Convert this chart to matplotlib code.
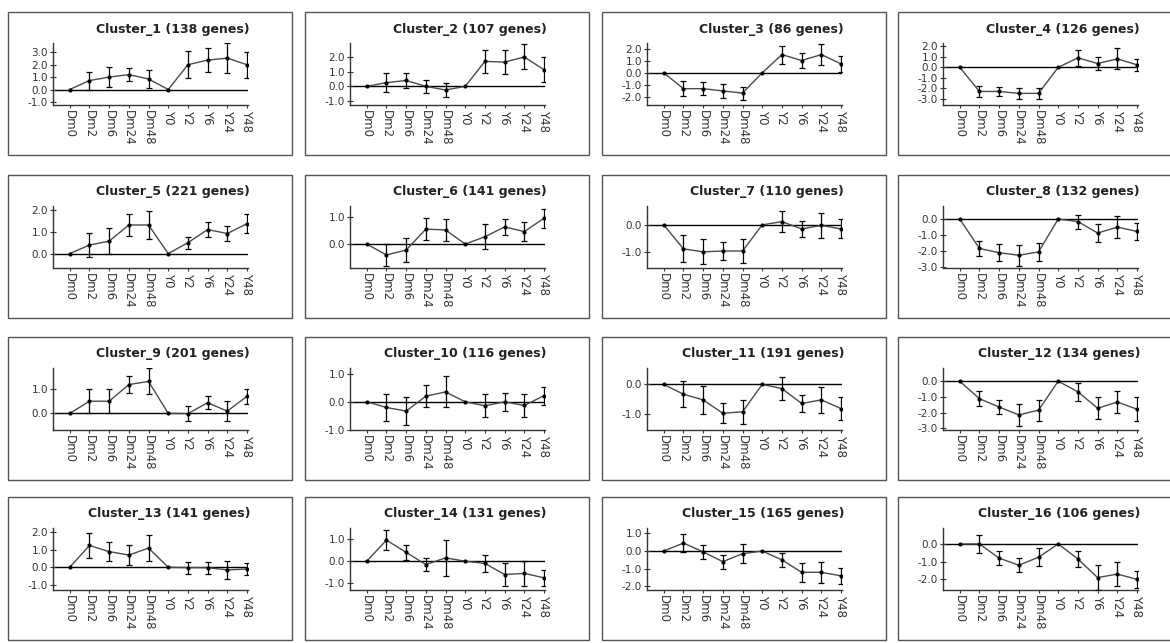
import numpy as np
import matplotlib.pyplot as plt
from matplotlib.patches import Rectangle

# -------- DATA --------
time_labels = ["Dm0", "Dm2", "Dm6", "Dm24", "Dm48", "Y0", "Y2", "Y6", "Y24", "Y48"]
gene_counts = [138, 107, 86, 126, 221, 141, 110, 132,
               201, 116, 191, 134, 141, 131, 165, 106]

means_1 = [0, 0.72, 1.0, 1.2, 0.85, 0, 2.0, 2.37, 2.53, 2.0]
errs_1 = [0, 0.73, 0.8, 0.55, 0.7, 0, 1.1, 0.95, 1.2, 1.05]
means_2 = [0, 0.25, 0.4, 0.0, -0.25, 0, 1.7, 1.65, 2.0, 1.13]
errs_2 = [0, 0.65, 0.5, 0.42, 0.5, 0, 0.8, 0.8, 0.85, 0.85]
means_3 = [0, -1.33, -1.33, -1.52, -1.7, 0, 1.53, 1.03, 1.53, 0.75]
errs_3 = [0, 0.62, 0.55, 0.6, 0.55, 0, 0.75, 0.6, 0.88, 0.68]
means_4 = [0, -2.28, -2.28, -2.46, -2.46, 0, 0.9, 0.36, 0.8, 0.24]
errs_4 = [0, 0.5, 0.45, 0.55, 0.5, 0, 0.77, 0.65, 1.0, 0.55]
means_5 = [0, 0.39, 0.57, 1.31, 1.31, 0, 0.5, 1.1, 0.92, 1.37]
errs_5 = [0, 0.55, 0.58, 0.51, 0.63, 0, 0.28, 0.33, 0.33, 0.44]
means_6 = [0, -0.4, -0.22, 0.55, 0.52, 0, 0.27, 0.63, 0.46, 0.95]
errs_6 = [0, 0.41, 0.43, 0.4, 0.4, 0, 0.45, 0.28, 0.35, 0.35]
means_7 = [0, -0.89, -1.0, -0.97, -0.97, 0, 0.12, -0.15, -0.02, -0.15]
errs_7 = [0, 0.5, 0.47, 0.35, 0.43, 0, 0.4, 0.3, 0.47, 0.35]
means_8 = [0, -1.85, -2.12, -2.28, -2.07, 0, -0.16, -0.88, -0.51, -0.78]
errs_8 = [0, 0.45, 0.53, 0.67, 0.58, 0, 0.44, 0.58, 0.67, 0.53]
means_9 = [0, 0.49, 0.49, 1.16, 1.29, 0, -0.01, 0.43, 0.09, 0.69]
errs_9 = [0, 0.48, 0.48, 0.33, 0.52, 0, 0.31, 0.27, 0.39, 0.3]
means_10 = [0, -0.2, -0.33, 0.2, 0.35, 0, -0.14, 0.0, -0.13, 0.22]
errs_10 = [0, 0.47, 0.5, 0.4, 0.55, 0, 0.4, 0.31, 0.4, 0.32]
means_11 = [0, -0.33, -0.52, -0.97, -0.92, 0, -0.14, -0.64, -0.52, -0.81]
errs_11 = [0, 0.44, 0.48, 0.33, 0.4, 0, 0.4, 0.28, 0.43, 0.4]
means_12 = [0, -1.11, -1.64, -2.14, -1.84, 0, -0.67, -1.72, -1.32, -1.78]
errs_12 = [0, 0.47, 0.46, 0.68, 0.67, 0, 0.56, 0.7, 0.68, 0.75]
means_13 = [0, 1.25, 0.9, 0.7, 1.1, 0, -0.02, -0.02, -0.15, -0.1]
errs_13 = [0, 0.7, 0.55, 0.55, 0.75, 0, 0.35, 0.35, 0.5, 0.35]
means_14 = [0, 0.95, 0.4, -0.15, 0.15, 0, -0.1, -0.6, -0.55, -0.75]
errs_14 = [0, 0.45, 0.35, 0.3, 0.8, 0, 0.4, 0.5, 0.55, 0.35]
means_15 = [0, 0.45, -0.05, -0.6, -0.15, 0, -0.5, -1.2, -1.2, -1.4]
errs_15 = [0, 0.5, 0.4, 0.4, 0.55, 0, 0.4, 0.55, 0.6, 0.45]
means_16 = [0, 0.0, -0.8, -1.2, -0.75, 0, -0.85, -1.9, -1.7, -2.0]
errs_16 = [0, 0.5, 0.4, 0.4, 0.5, 0, 0.45, 0.7, 0.7, 0.5]

all_means = [means_1, means_2, means_3, means_4, means_5, means_6, means_7, means_8,
             means_9, means_10, means_11, means_12, means_13, means_14, means_15, means_16]
all_errs = [errs_1, errs_2, errs_3, errs_4, errs_5, errs_6, errs_7, errs_8,
            errs_9, errs_10, errs_11, errs_12, errs_13, errs_14, errs_15, errs_16]

y_ticks = [
    [-1, 0, 1, 2, 3], [-1, 0, 1, 2], [-2, -1, 0, 1, 2], [-3, -2, -1, 0, 1, 2],
    [0, 1, 2], [0, 1], [-1, 0], [-3, -2, -1, 0],
    [0, 1], [-1, 0, 1], [-1, 0], [-3, -2, -1, 0],
    [-1, 0, 1, 2], [-1, 0, 1], [-2, -1, 0, 1], [-2, -1, 0],
]
y_lims = [
    (-1.25, 3.75), (-1.27, 2.95), (-2.7, 2.5), (-3.56, 2.3),
    (-0.66, 2.18), (-0.88, 1.4), (-1.6, 0.7), (-3.08, 0.82),
    (-0.67, 1.83), (-1.0, 1.2), (-1.53, 0.55), (-3.1, 0.84),
    (-1.3, 2.25), (-1.3, 1.5), (-2.2, 1.3), (-2.6, 0.9),
]

# -------- LAYOUT (pixels) --------
W, H = 1170, 643
col_x = [8, 305, 602, 898]
row_y = [12, 175, 337, 497]
box_w, box_h = 284, 143

fig = plt.figure(figsize=(W / 100, H / 100), dpi=100)
fig.patch.set_facecolor("white")

x = np.arange(len(time_labels))

for i in range(16):
    r, c = divmod(i, 4)
    bx, by = col_x[c], row_y[r]

    # panel frame
    fig.patches.append(Rectangle((bx / W, 1 - (by + box_h) / H), box_w / W, box_h / H,
                                 transform=fig.transFigure, fill=False,
                                 edgecolor="#555555", linewidth=1.0))

    ax = fig.add_axes([(bx + 45) / W, 1 - (by + 93) / H, 195 / W, 62 / H])
    m = np.array(all_means[i])
    e = np.array(all_errs[i])

    ax.axhline(0, color="black", linewidth=1.0, zorder=1)
    ax.plot(x, m, color="#4a4a4a", linewidth=1.0, zorder=2)
    ax.plot(x, m, "o", color="black", markersize=2, zorder=3)
    keep = e > 0
    ax.errorbar(x[keep], m[keep], yerr=e[keep], fmt="none", ecolor="black",
                elinewidth=0.9, capsize=2.5, capthick=0.9, zorder=3)

    ax.set_xlim(-0.85, 9.05)
    ax.set_ylim(*y_lims[i])
    ax.set_yticks(y_ticks[i])
    ax.set_yticklabels([f"{v:.1f}" for v in y_ticks[i]])
    ax.set_xticks(x)
    ax.set_xticklabels(time_labels, rotation=270)

    for s in ["top", "right"]:
        ax.spines[s].set_visible(False)
    for s in ["left", "bottom"]:
        ax.spines[s].set_color("#333333")
        ax.spines[s].set_linewidth(1.0)
    ax.tick_params(axis="y", direction="inout", length=5, width=0.8,
                   labelsize=7.5, colors="#333333", pad=1)
    ax.tick_params(axis="x", direction="out", length=2.5, width=0.8,
                   labelsize=8.5, colors="#333333", pad=1)

    fig.text((bx + 242) / W, 1 - (by + 17) / H, f"Cluster_{i + 1} ({gene_counts[i]} genes)",
             ha="right", va="center", fontsize=9, fontweight="bold", color="#222222")

fig.savefig("out.png", dpi=100, facecolor="white")
